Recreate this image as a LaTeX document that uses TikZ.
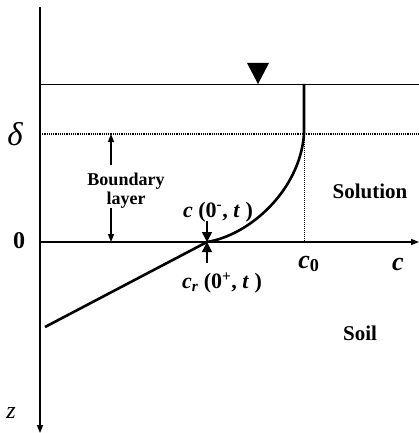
\documentclass[tikz,border=0pt]{standalone}
\usepackage{fontspec}
\setmainfont{Liberation Serif}
\usepackage{tikz}
\usetikzlibrary{arrows.meta, positioning}

\begin{document}
\begin{tikzpicture}[x=1pt, y=-1pt,
    axis/.style={line width=1.6pt, -{Triangle[width=6pt,length=8pt]}},
    profile/.style={line width=2.6pt},
    lbl/.style={font=\bfseries\fontsize{21}{24}\selectfont, inner sep=0pt},
    bigarr/.style={line width=1.4pt, -{Triangle[width=10pt,length=10pt]}},
    smallarr/.style={line width=1.4pt, -{Triangle[width=6pt,length=8pt]}}]
    \useasboundingbox (0,0) rectangle (419,433);
    \coordinate (O) at (40,242);
    \coordinate (top) at (40,7);
    \coordinate (bot) at (40,433);
    \coordinate (right) at (419,242);
    \draw[axis] (top) -- (bot);
    \draw[axis] (O) -- (right);
    % water surface and boundary layer edge
    \draw[line width=0.8pt] (40,84) -- (419,84);
    \draw[line width=1.2pt, densely dotted] (40,134) -- (419,134);
    \fill (247,63) -- (269,63) -- (258,84) -- cycle;
    % concentration profile
    \coordinate (cs) at (304,84);
    \coordinate (cd) at (304,134);
    \coordinate (ci) at (207,242);
    \coordinate (cz) at (45,327);
    \draw[line width=1pt, densely dotted] (cd) -- (304,242);
    \draw[profile] (cs) -- (cd) .. controls (300,190) and (250,235) .. (ci) -- (cz);
    % labels
    \node[lbl, font=\itshape\fontsize{33}{36}\selectfont] (delta) at (15,134) {δ};
    \node[lbl, font=\bfseries\fontsize{24}{26}\selectfont] (zero) at (19,241) {0};
    \node[lbl, font=\itshape\fontsize{24}{26}\selectfont] (zlbl) at (11,413) {z};
    \node[lbl, font=\bfseries\fontsize{18}{19}\selectfont, align=center] (blayer) at (126,191)
        {Boundary\\layer};
    \draw[smallarr] (111,165) -- (111,134);
    \draw[smallarr] (111,208) -- (111,242);
    \node[lbl] (sol) at (370,191) {Solution};
    \node[lbl] (soil) at (360,333) {Soil};
    \node[lbl, font=\bfseries\fontsize{26}{28}\selectfont] (czero) at (309,264) {\textit{c}\textsubscript{0}};
    \node[lbl, font=\bfseries\fontsize{26}{28}\selectfont] (clbl) at (398,264) {\textit{c}};
    \node[lbl, font=\bfseries\fontsize{22}{24}\selectfont] (cminus) at (218,212) {\textit{c} (0\textsuperscript{-}, \textit{t} )};
    \node[lbl, font=\bfseries\fontsize{22}{24}\selectfont] (cplus) at (222,283) {\textit{c}\textsubscript{\textit{r}} (0\textsuperscript{+}, \textit{t} )};
    \draw[bigarr] (207,221) -- (ci);
    \draw[bigarr] (207,263) -- (ci);
\end{tikzpicture}
\end{document}
